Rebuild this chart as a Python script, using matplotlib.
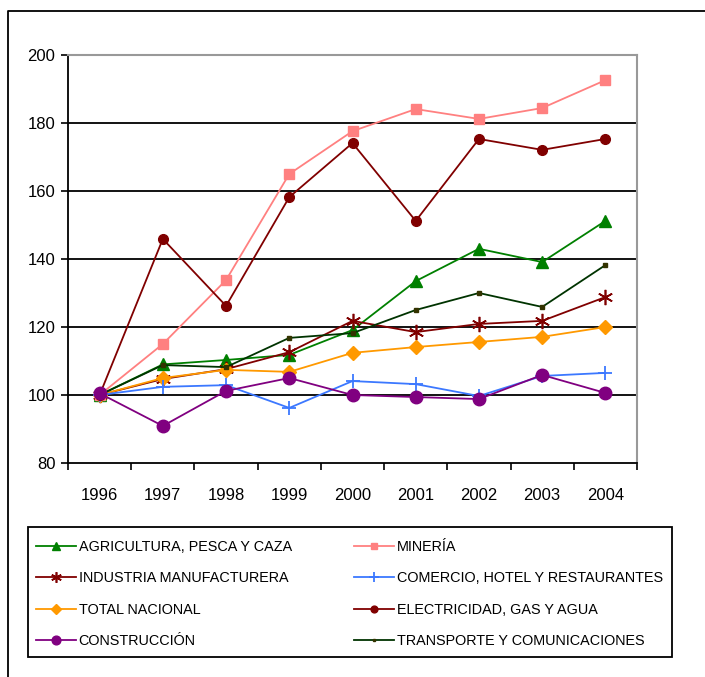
import matplotlib
matplotlib.use('Agg')
import matplotlib.pyplot as plt
from matplotlib.lines import Line2D
from matplotlib.patches import Rectangle

years = ['1996', '1997', '1998', '1999', '2000', '2001', '2002', '2003', '2004']

agricultura = [100, 109.0, 110.3, 111.8, 119.1, 133.5, 143.0, 139.1, 151.2]
mineria = [100, 115.0, 133.8, 165.0, 177.6, 184.1, 181.2, 184.4, 192.6]
industria = [100, 104.7, 107.6, 112.6, 121.8, 118.5, 120.9, 121.8, 128.8]
comercio = [100, 102.4, 102.9, 96.2, 104.1, 103.2, 99.7, 105.6, 106.5]
total = [100, 105.0, 107.4, 106.8, 112.4, 114.1, 115.6, 117.1, 120.0]
electricidad = [100, 145.9, 126.2, 158.2, 174.1, 151.2, 175.3, 172.1, 175.3]
construccion = [100.5, 90.9, 101.2, 105.0, 100.0, 99.4, 98.8, 105.9, 100.6]
transporte = [100, 108.8, 108.2, 116.8, 118.2, 125.0, 130.0, 125.9, 138.2]

plt.rcParams['font.family'] = ['Liberation Sans', 'DejaVu Sans']

fig = plt.figure(figsize=(7.05, 6.77), dpi=100)
ax = fig.add_axes([68 / 705, 1 - 463 / 677, (637 - 68) / 705, (463 - 55) / 677])

x = list(range(len(years)))
lw = 1.3

# order = legend order (column by column)
ax.plot(x, agricultura, color='#008000', marker='^', markersize=9, lw=lw,
        label='AGRICULTURA, PESCA Y CAZA')
ax.plot(x, industria, color='#800000', marker=(6, 2, 0), markersize=11, mew=1.2, lw=lw,
        label='INDUSTRIA MANUFACTURERA')
ax.plot(x, total, color='#FF9900', marker='D', markersize=7, lw=lw,
        label='TOTAL NACIONAL')
ax.plot(x, construccion, color='#800080', marker='o', markersize=9, lw=lw,
        label='CONSTRUCCIÓN', zorder=4)
ax.plot(x, mineria, color='#FF8080', marker='s', markersize=7, lw=lw,
        label='MINERÍA')
ax.plot(x, comercio, color='#3C78FF', marker='+', markersize=10, mew=1.3, lw=lw,
        label='COMERCIO, HOTEL Y RESTAURANTES')
ax.plot(x, electricidad, color='#800000', marker='o', markersize=7, lw=lw,
        label='ELECTRICIDAD, GAS Y AGUA')
ax.plot(x, transporte, color='#003300', marker='s', markersize=3, mfc='#333300', mec='#333300',
        lw=lw, label='TRANSPORTE Y COMUNICACIONES')

ax.set_xlim(-0.5, len(years) - 0.5)
ax.set_ylim(80, 200)
ax.set_yticks(range(80, 201, 20))
ax.set_xticks([i - 0.5 for i in range(len(years) + 1)])
ax.set_xticklabels([])
ax.set_xticks(x, minor=True)
ax.set_xticklabels(years, minor=True)
ax.tick_params(axis='x', which='minor', length=0, pad=18, labelsize=12)
ax.tick_params(axis='x', which='major', length=5, width=1.2, direction='out')
ax.tick_params(axis='y', length=5, width=1.2, direction='out', labelsize=12, pad=4)

for v in range(100, 200, 20):
    ax.axhline(v, color='black', lw=1.3, zorder=1)

ax.spines['left'].set_linewidth(1.3)
ax.spines['bottom'].set_linewidth(1.3)
ax.spines['top'].set_color('#999999')
ax.spines['right'].set_color('#999999')
ax.spines['top'].set_linewidth(1.5)
ax.spines['right'].set_linewidth(1.5)

# legend entries without frame, box drawn separately
leg = fig.legend(loc='upper left', bbox_to_anchor=(36 / 705, 1 - 540 / 677), ncol=2,
                 prop={'family': ['Liberation Sans Narrow', 'Liberation Sans'], 'size': 10.4},
                 frameon=False, handlelength=2.8, handletextpad=0.15,
                 columnspacing=4.3, labelspacing=1.2, borderpad=0, borderaxespad=0,
                 markerscale=0.7)
fig.patches.append(Rectangle((28 / 705, 1 - 657 / 677), 644 / 705, 130 / 677,
                             transform=fig.transFigure, fill=False, edgecolor='black', lw=1.3))

# outer chart frame (only left and top edges visible in the crop)
fig.lines.append(Line2D([8 / 705, 8 / 705, 1], [0, 1 - 11 / 677, 1 - 11 / 677],
                        transform=fig.transFigure, color='black', lw=1.3))

fig.savefig('out.png', dpi=100)
